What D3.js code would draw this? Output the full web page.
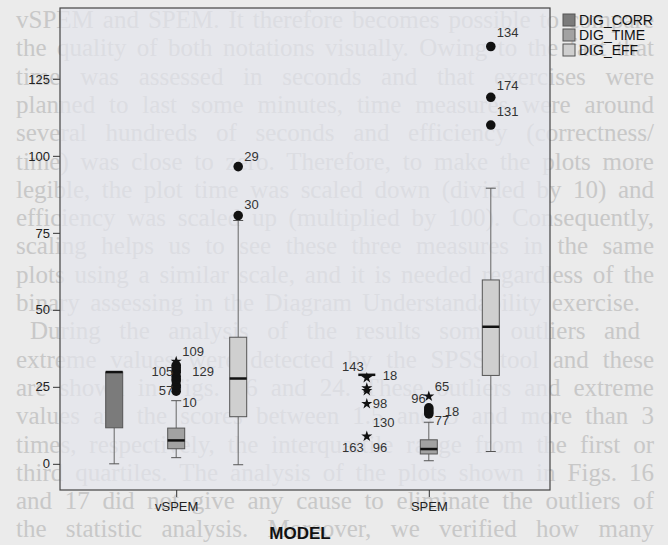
<!DOCTYPE html>
<meta charset="utf-8">
<style>
	body {
		margin: 0;
		padding: 0;
		background: #ebebeb;
	}
	.page text {
		font-family: 'Liberation Serif', 'DejaVu Serif', serif;
		font-size: 25px;
		fill: #c8c8c8;
	}
	.axis text {
		font-family: 'Liberation Sans Narrow', 'Liberation Sans', Arial, sans-serif;
		font-size: 13px;
		fill: #222;
	}
	.axis line {
		stroke: #333;
	}
	.lbl {
		font-family: 'Liberation Sans Narrow', 'Liberation Sans', Arial, sans-serif;
		font-size: 13px;
		fill: #333;
	}
</style>
<body>
<svg class="chart" width="668" height="545"></svg>
</body>
<script src="https://d3js.org/d3.v7.min.js"></script>
<script>

// scanned page text showing behind the plot
var pageLines = [
	"vSPEM and SPEM. It therefore becomes possible to compare",
	"the quality of both notations visually. Owing to the fact that",
	"time was assessed in seconds and that exercises were",
	"planned to last some minutes, time measures were around",
	"several hundreds of seconds and efficiency (correctness/",
	"time) was close to zero. Therefore, to make the plots more",
	"legible, the plot time was scaled down (divided by 10) and",
	"efficiency was scaled up (multiplied by 100). Consequently,",
	"scaling helps us to see these three measures in the same",
	"plots using a similar scale, and it is needed regardless of the",
	"binary assessing in the Diagram Understandability exercise.",
	"During the analysis of the results some outliers and",
	"extreme values were detected by the SPSS tool and these",
	"are shown in Figs. 16 and 24. These outliers and extreme",
	"values are the scores between 1.5 and 3 and more than 3",
	"times, respectively, the interquartile range from the first or",
	"third quartiles. The analysis of the plots shown in Figs. 16",
	"and 17 did not give any cause to eliminate the outliers of",
	"the statistic analysis. Moreover, we verified how many"
];

var models = ["vSPEM", "SPEM"];
var series = ["DIG_CORR", "DIG_TIME", "DIG_EFF"];
var yTicks = [0, 25, 50, 75, 100, 125];

// [lower whisker, Q1, median, Q3, upper whisker] for vSPEM, SPEM
var digCorr = [[0, 11.7, 29.8, 29.8, 29.8], [28.9, 28.9, 28.9, 28.9, 28.9]];
var digTime = [[2.0, 4.9, 7.6, 11.6, 20.5], [1.0, 3.2, 4.8, 7.8, 13.5]];
var digEff  = [[-0.3, 15.3, 27.7, 41.1, 79.0], [4.0, 28.7, 44.5, 59.7, 89.5]];

// outliers (o) and extremes (e)
var outliers = [
	{model: "vSPEM", serie: "DIG_TIME", value: 23.6, kind: "o"},
	{model: "vSPEM", serie: "DIG_TIME", value: 24.8, kind: "o"},
	{model: "vSPEM", serie: "DIG_TIME", value: 25.5, kind: "o"},
	{model: "vSPEM", serie: "DIG_TIME", value: 26.9, kind: "o"},
	{model: "vSPEM", serie: "DIG_TIME", value: 27.6, kind: "o"},
	{model: "vSPEM", serie: "DIG_TIME", value: 28.4, kind: "o"},
	{model: "vSPEM", serie: "DIG_TIME", value: 29.7, kind: "o"},
	{model: "vSPEM", serie: "DIG_TIME", value: 30.3, kind: "o"},
	{model: "vSPEM", serie: "DIG_TIME", value: 31.2, kind: "o"},
	{model: "vSPEM", serie: "DIG_TIME", value: 32.0, kind: "o"},
	{model: "vSPEM", serie: "DIG_TIME", value: 33.2, kind: "e"},
	{model: "vSPEM", serie: "DIG_EFF", value: 80.6, kind: "o"},
	{model: "vSPEM", serie: "DIG_EFF", value: 96.5, kind: "o"},
	{model: "SPEM", serie: "DIG_CORR", value: 27.9, kind: "e"},
	{model: "SPEM", serie: "DIG_CORR", value: 24.6, kind: "e"},
	{model: "SPEM", serie: "DIG_CORR", value: 23.7, kind: "e"},
	{model: "SPEM", serie: "DIG_CORR", value: 19.5, kind: "e"},
	{model: "SPEM", serie: "DIG_CORR", value: 8.9, kind: "e"},
	{model: "SPEM", serie: "DIG_TIME", value: 16.2, kind: "o"},
	{model: "SPEM", serie: "DIG_TIME", value: 16.8, kind: "o"},
	{model: "SPEM", serie: "DIG_TIME", value: 17.5, kind: "o"},
	{model: "SPEM", serie: "DIG_TIME", value: 18.2, kind: "o"},
	{model: "SPEM", serie: "DIG_TIME", value: 21.9, kind: "e"},
	{model: "SPEM", serie: "DIG_EFF", value: 110.0, kind: "o"},
	{model: "SPEM", serie: "DIG_EFF", value: 119.0, kind: "o"},
	{model: "SPEM", serie: "DIG_EFF", value: 135.5, kind: "o"}
];

// case number labels: value = height of the label, side = left/right of the point
var caseLabels = [
	{model: "vSPEM", serie: "DIG_TIME", text: "109", value: 36.4, side: "r"},
	{model: "vSPEM", serie: "DIG_TIME", text: "105", value: 29.9, side: "l"},
	{model: "vSPEM", serie: "DIG_TIME", text: "129", value: 29.9, side: "rr"},
	{model: "vSPEM", serie: "DIG_TIME", text: "57", value: 23.7, side: "l"},
	{model: "vSPEM", serie: "DIG_TIME", text: "10", value: 19.8, side: "r"},
	{model: "vSPEM", serie: "DIG_EFF", text: "29", value: 99.7, side: "r"},
	{model: "vSPEM", serie: "DIG_EFF", text: "30", value: 84.1, side: "r"},
	{model: "SPEM", serie: "DIG_CORR", text: "143", value: 31.5, side: "l"},
	{model: "SPEM", serie: "DIG_CORR", text: "18", value: 28.6, side: "rr"},
	{model: "SPEM", serie: "DIG_CORR", text: "98", value: 19.5, side: "r"},
	{model: "SPEM", serie: "DIG_CORR", text: "130", value: 13.3, side: "r"},
	{model: "SPEM", serie: "DIG_CORR", text: "163", value: 5.2, side: "l"},
	{model: "SPEM", serie: "DIG_CORR", text: "96", value: 5.2, side: "r"},
	{model: "SPEM", serie: "DIG_TIME", text: "65", value: 25.0, side: "r"},
	{model: "SPEM", serie: "DIG_TIME", text: "96", value: 21.1, side: "l"},
	{model: "SPEM", serie: "DIG_TIME", text: "77", value: 14.0, side: "r"},
	{model: "SPEM", serie: "DIG_TIME", text: "18", value: 16.9, side: "rr"},
	{model: "SPEM", serie: "DIG_EFF", text: "134", value: 140.0, side: "r"},
	{model: "SPEM", serie: "DIG_EFF", text: "174", value: 123.0, side: "r"},
	{model: "SPEM", serie: "DIG_EFF", text: "131", value: 114.3, side: "r"}
];

var stats = {DIG_CORR: digCorr, DIG_TIME: digTime, DIG_EFF: digEff};
var colors = {DIG_CORR: "#7b7b7b", DIG_TIME: "#a2a2a2", DIG_EFF: "#cfcfcf"};

var frame = {left: 60, right: 550, top: 8, bottom: 490};
var boxW = 17;

var svg = d3.select(".chart");

var x = d3.scalePoint()
	.domain(models)
	.range([60, 545])
	.padding(0.46);

var xs = d3.scalePoint()
	.domain(series)
	.range([-62, 62]);

var y = d3.scaleLinear()
	.domain([-8.5, 148])
	.range([frame.bottom, frame.top]);

// background page text, justified with word spacing
var page = svg.append("g").attr("class", "page");
page.selectAll("text")
	.data(pageLines)
  .enter().append("text")
	.attr("x", function (d, i) { return i === 11 ? 30 : 16; })
	.attr("y", function (d, i) { return 28 + i * 28.3; })
	.text(function (d) { return d; })
	.each(function (d, i) {
		var t = d3.select(this);
		var target = 654 - (i === 11 ? 30 : 16);
		if (i === 10 || i === 11) target -= 14;
		var w = this.getComputedTextLength();
		var gaps = d.split(" ").length - 1;
		if (w < target && gaps > 0) {
			t.attr("word-spacing", ((target - w) / gaps).toFixed(2));
		} else if (w > target) {
			t.attr("textLength", target).attr("lengthAdjust", "spacingAndGlyphs");
		}
	});

// plot frame
svg.append("rect")
	.attr("x", frame.left)
	.attr("y", frame.top)
	.attr("width", frame.right - frame.left)
	.attr("height", frame.bottom - frame.top)
	.attr("fill", "#e4e5ec")
	.attr("fill-opacity", 0.7)
	.attr("stroke", "#444")
	.attr("stroke-width", 1.2);

// axes
var yAxis = d3.axisLeft(y).tickValues(yTicks).tickSize(7).tickPadding(3);
var gy = svg.append("g")
	.attr("class", "axis")
	.attr("transform", "translate(" + frame.left + ",0)")
	.call(yAxis);
gy.select(".domain").remove();

var xAxis = d3.axisBottom(x).tickSize(7).tickPadding(5);
var gx = svg.append("g")
	.attr("class", "axis")
	.attr("transform", "translate(0," + frame.bottom + ")")
	.call(xAxis);
gx.select(".domain").remove();

svg.append("text")
	.attr("x", 300)
	.attr("y", 539)
	.attr("text-anchor", "middle")
	.style("font-family", "'Liberation Sans', Arial, sans-serif")
	.style("font-weight", "bold")
	.style("font-size", "17px")
	.style("fill", "#111")
	.text("MODEL");

// boxes
var boxes = [];
series.forEach(function (s) {
	models.forEach(function (m, mi) {
		var v = stats[s][mi];
		boxes.push({serie: s, model: m, lo: v[0], q1: v[1], med: v[2], q3: v[3], hi: v[4]});
	});
});

var bg = svg.selectAll(".box")
	.data(boxes)
  .enter().append("g")
	.attr("class", "box")
	.attr("transform", function (d) { return "translate(" + (x(d.model) + xs(d.serie)) + ",0)"; });

// whiskers
bg.append("line")
	.attr("y1", function (d) { return y(d.lo); })
	.attr("y2", function (d) { return y(d.q1); })
	.attr("stroke", "#666");
bg.append("line")
	.attr("y1", function (d) { return y(d.q3); })
	.attr("y2", function (d) { return y(d.hi); })
	.attr("stroke", "#666");
bg.filter(function (d) { return d.lo < d.q1; }).append("line")
	.attr("x1", -5).attr("x2", 5)
	.attr("y1", function (d) { return y(d.lo); })
	.attr("y2", function (d) { return y(d.lo); })
	.attr("stroke", "#555");
bg.filter(function (d) { return d.hi > d.q3; }).append("line")
	.attr("x1", -5).attr("x2", 5)
	.attr("y1", function (d) { return y(d.hi); })
	.attr("y2", function (d) { return y(d.hi); })
	.attr("stroke", "#555");

bg.filter(function (d) { return d.q3 > d.q1; }).append("rect")
	.attr("x", -boxW / 2)
	.attr("width", boxW)
	.attr("y", function (d) { return y(d.q3); })
	.attr("height", function (d) { return y(d.q1) - y(d.q3); })
	.attr("fill", function (d) { return colors[d.serie]; })
	.attr("stroke", "#555");

bg.append("line")
	.attr("x1", -boxW / 2)
	.attr("x2", boxW / 2)
	.attr("y1", function (d) { return y(d.med); })
	.attr("y2", function (d) { return y(d.med); })
	.attr("stroke", "#111")
	.attr("stroke-width", 2.5);

// outliers and extremes
var star = d3.symbol().type(d3.symbolStar).size(38);
var dot = d3.symbol().type(d3.symbolCircle).size(72);
svg.selectAll(".pt")
	.data(outliers)
  .enter().append("path")
	.attr("class", "pt")
	.attr("transform", function (d) {
		return "translate(" + (x(d.model) + xs(d.serie)) + "," + y(d.value) + ")";
	})
	.attr("d", function (d) { return d.kind === "e" ? star() : dot(); })
	.attr("fill", "#111");

var sideOffset = {l: -3, r: 6, rr: 16};
svg.selectAll(".lbl")
	.data(caseLabels)
  .enter().append("text")
	.attr("class", "lbl")
	.attr("x", function (d) { return x(d.model) + xs(d.serie) + sideOffset[d.side]; })
	.attr("y", function (d) { return y(d.value); })
	.attr("dy", "0.35em")
	.attr("text-anchor", function (d) { return d.side === "l" ? "end" : "start"; })
	.text(function (d) { return d.text; });

// legend
var lg = svg.selectAll(".leg")
	.data(series)
  .enter().append("g")
	.attr("class", "leg")
	.attr("transform", function (d, i) { return "translate(563," + (14 + i * 15) + ")"; });
lg.append("rect")
	.attr("width", 12)
	.attr("height", 12)
	.attr("fill", function (d) { return colors[d]; })
	.attr("stroke", "#555");
lg.append("text")
	.attr("class", "lbl")
	.attr("x", 16)
	.attr("y", 6)
	.attr("dy", "0.35em")
	.style("font-size", "14px")
	.style("fill", "#111")
	.text(function (d) { return d; });

</script>
